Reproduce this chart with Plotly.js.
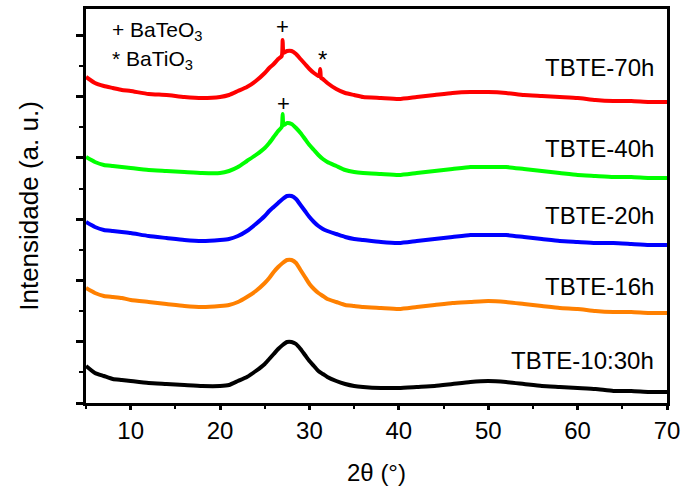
<!DOCTYPE html>
<html>
<head>
<meta charset="utf-8">
<script src="https://cdn.plot.ly/plotly-3.0.1.min.js"></script>
<style>
  html, body { margin: 0; padding: 0; background: #fff; }
  #xrd { width: 686px; height: 492px; }
</style>
</head>
<body>
<div id="xrd"></div>
<script>
// 2theta grid (degrees) shared by the smooth patterns
const twoTheta = [5, 6, 7, 8, 9, 10, 12, 14, 16, 18, 20, 21, 22, 23, 24, 25, 25.5, 26, 26.5, 27, 27.5, 28, 28.5,
  29, 29.5, 30, 30.5, 31, 31.5, 32, 33, 34, 35, 36, 38, 40, 42, 44, 46, 48, 50, 52, 54, 56, 58, 60, 62, 64, 66, 68, 70];

// intensities (a. u., already stacked)
const tbte1030 = [37, 30, 27, 24, 23, 22, 20, 19, 18, 17, 17, 18, 22, 26, 32, 39, 44, 49, 54, 58, 61, 61, 59,
  54, 48, 42, 37, 32, 29, 26, 22, 19, 17, 16, 15, 15, 16, 17, 19, 21, 22, 21, 19, 17, 16, 15, 14, 12, 12, 11, 11];
const tbte16 = [115, 110, 107, 106, 105, 103, 101, 99, 97, 96, 97, 98, 101, 106, 112, 120, 125, 131, 136, 140, 143, 143, 140,
  133, 126, 119, 114, 110, 107, 104, 101, 98, 97, 96, 95, 94, 96, 98, 100, 101, 102, 101, 99, 97, 95, 94, 92, 91, 91, 90, 90];
const tbte20 = [181, 176, 173, 172, 171, 170, 167, 165, 163, 162, 163, 164, 167, 172, 179, 187, 192, 196, 200, 204, 207, 207, 204,
  198, 192, 186, 181, 177, 174, 172, 169, 166, 164, 163, 161, 160, 162, 164, 166, 168, 168, 168, 166, 164, 162, 161, 160, 160, 159, 158, 158];

// patterns with sharp crystalline peaks get their own grid
const twoTheta40 = [5, 6, 7, 8, 9, 10, 12, 14, 16, 18, 20, 21, 22, 23, 24, 25, 25.5, 26, 26.5, 26.9, 27, 27.1, 27.5, 28, 28.5,
  29, 29.5, 30, 30.5, 31, 31.5, 32, 33, 34, 35, 36, 38, 40, 42, 44, 46, 48, 50, 52, 54, 56, 58, 60, 62, 64, 66, 68, 70];
const tbte40 = [246, 241, 238, 237, 236, 235, 233, 232, 231, 230, 230, 232, 236, 242, 248, 255, 260, 266, 272, 276, 289, 278, 280, 279, 275,
  270, 264, 258, 253, 248, 244, 241, 237, 233, 231, 230, 229, 228, 230, 232, 234, 236, 236, 236, 234, 232, 230, 228, 227, 226, 226, 225, 225];

const twoTheta70 = [5, 6, 7, 8, 9, 10, 12, 14, 16, 18, 20, 21, 22, 23, 24, 25, 25.5, 26, 26.5, 26.9, 27, 27.1, 27.5, 28, 28.5,
  29, 29.5, 30, 30.5, 31, 31.1, 31.2, 31.3, 31.5, 32, 33, 34, 35, 36, 38, 40, 42, 44, 46, 48, 50, 52, 54, 56, 58, 60, 62, 64, 66, 68, 70];
const tbte70 = [326, 320, 317, 315, 313, 312, 309, 308, 306, 305, 306, 308, 312, 316, 322, 330, 335, 339, 344, 347, 363, 350, 352, 352, 349,
  344, 339, 334, 330, 327, 327, 334, 325, 324, 320, 314, 310, 308, 306, 305, 304, 306, 308, 310, 311, 311, 310, 308, 307, 306, 305, 303, 302, 302, 301, 301];

const sampleNames = ["TBTE-10:30h", "TBTE-16h", "TBTE-20h", "TBTE-40h", "TBTE-70h"];
const sampleColors = ["#000000", "#ff8000", "#0000ff", "#00ff00", "#ff0000"];
const labelY = [43, 117, 188, 255, 336];

const font = "Liberation Sans, Arial, sans-serif";

const xs = [twoTheta, twoTheta, twoTheta, twoTheta40, twoTheta70];
const ys = [tbte1030, tbte16, tbte20, tbte40, tbte70];

const traces = ys.map((y, i) => ({
  x: xs[i],
  y: y,
  type: "scatter",
  mode: "lines",
  name: sampleNames[i],
  line: { color: sampleColors[i], width: 4, shape: "spline", smoothing: 0.5 },
}));

// sample names on the right side
const annotations = sampleNames.map((name, i) => ({
  x: 68.8, y: labelY[i], xref: "x", yref: "y",
  text: name, showarrow: false, xanchor: "right", yanchor: "middle",
  font: { family: font, size: 24, color: "#000" },
}));

// phase key and peak markers
annotations.push(
  { x: 7.7, y: 372, xref: "x", yref: "y", text: "+ BaTeO<sub>3</sub>", showarrow: false,
    xanchor: "left", yanchor: "middle", font: { family: font, size: 21, color: "#000" } },
  { x: 7.7, y: 343, xref: "x", yref: "y", text: "* BaTiO<sub>3</sub>", showarrow: false,
    xanchor: "left", yanchor: "middle", font: { family: font, size: 21, color: "#000" } },
  { x: 27.0, y: 377, xref: "x", yref: "y", text: "+", showarrow: false,
    font: { family: font, size: 22, color: "#000" } },
  { x: 31.5, y: 344, xref: "x", yref: "y", text: "*", showarrow: false,
    font: { family: font, size: 24, color: "#000" } },
  { x: 27.1, y: 300, xref: "x", yref: "y", text: "+", showarrow: false,
    font: { family: font, size: 22, color: "#000" } }
);

const layout = {
  width: 686,
  height: 492,
  margin: { l: 86, r: 19, t: 9, b: 89 },
  paper_bgcolor: "#fff",
  plot_bgcolor: "#fff",
  showlegend: false,
  font: { family: font, color: "#000" },
  xaxis: {
    range: [5, 70],
    tick0: 10, dtick: 10,
    ticks: "outside", ticklen: 4, tickwidth: 3, tickcolor: "#000",
    minor: { dtick: 5, ticks: "outside", ticklen: 3, tickwidth: 2, tickcolor: "#000" },
    showline: true, linewidth: 3, linecolor: "#000", mirror: true,
    showgrid: false, zeroline: false,
    tickfont: { family: font, size: 24, color: "#000" },
    ticklabelstandoff: 0,
    title: { text: "2θ (°)", font: { family: font, size: 24, color: "#000" }, standoff: 22 },
  },
  yaxis: {
    range: [0, 394],
    tick0: 0, dtick: 61.27,
    ticks: "outside", ticklen: 7, tickwidth: 3, tickcolor: "#000",
    minor: { dtick: 30.635, ticks: "outside", ticklen: 4, tickwidth: 2, tickcolor: "#000" },
    showticklabels: false,
    showline: true, linewidth: 3, linecolor: "#000", mirror: true,
    showgrid: false, zeroline: false,
    title: { text: "Intensidade (a. u.)", font: { family: font, size: 26, color: "#000" }, standoff: 30 },
  },
  annotations: annotations,
};

Plotly.newPlot("xrd", traces, layout, { displayModeBar: false, staticPlot: true });
</script>
</body>
</html>
